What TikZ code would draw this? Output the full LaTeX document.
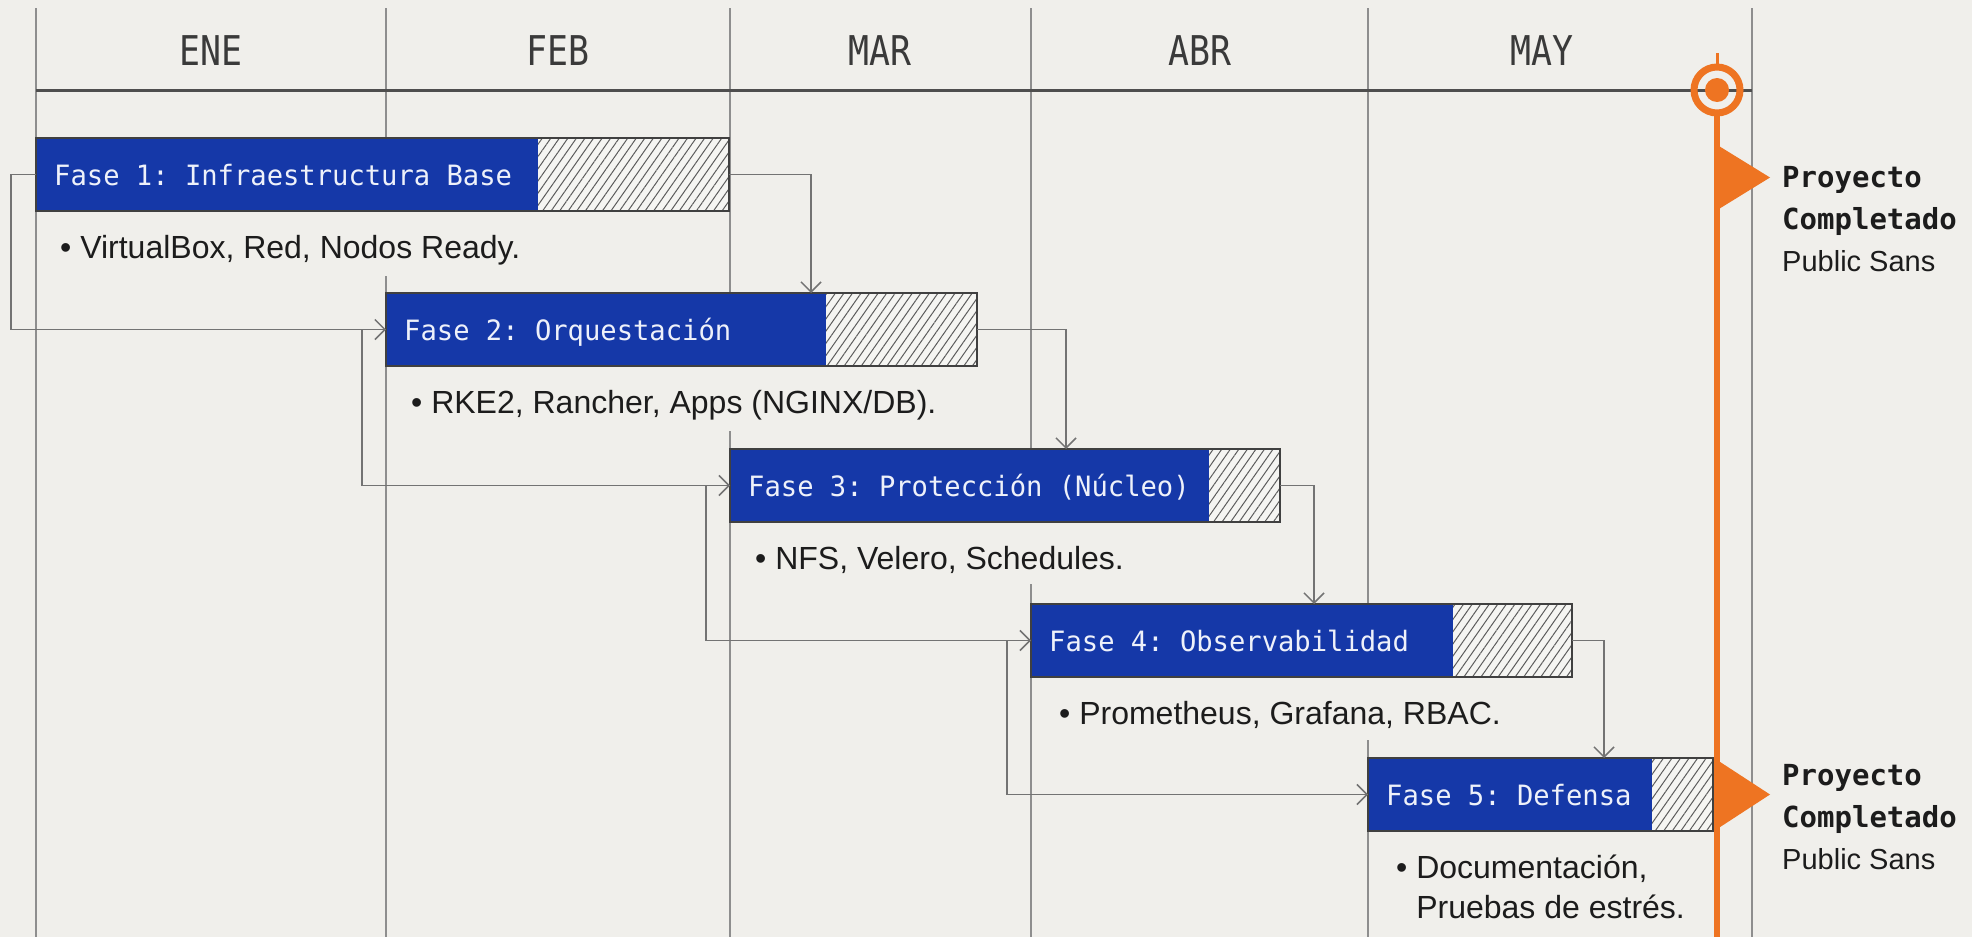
\documentclass[tikz,border=0pt]{standalone}
\usepackage{fontspec}
\setmainfont{Liberation Sans}
\newfontfamily\monofont{DejaVu Sans Mono}
\usetikzlibrary{arrows.meta,patterns.meta,calc}

\definecolor{bgcol}{HTML}{F0EFEB}
\definecolor{barblue}{HTML}{1538A8}
\definecolor{gridcol}{HTML}{8E8E8E}
\definecolor{headcol}{HTML}{4E4E4E}
\definecolor{linecol}{HTML}{737373}
\definecolor{edgecol}{HTML}{404040}
\definecolor{hatchbg}{HTML}{F5F5F2}
\definecolor{hatchcol}{HTML}{5C5C5C}
\definecolor{orangecol}{HTML}{EE7422}
\definecolor{inkcol}{HTML}{1C1C1C}
\definecolor{monthcol}{HTML}{3A3A3A}
\definecolor{bartext}{HTML}{EEF1FA}

\begin{document}
\frenchspacing
\begin{tikzpicture}[x=1pt,y=-1pt,
  gridline/.style={draw=gridcol,line width=1.5pt},
  headline/.style={draw=headcol,line width=3pt},
  panel/.style={fill=bgcol,draw=none},
  bluebar/.style={fill=barblue,draw=none,anchor=north west,
    minimum height=73pt,inner sep=0pt,outer sep=0pt},
  hatchbar/.style={preaction={fill=hatchbg},
    pattern={Lines[angle=55,distance=7pt,line width=1pt]},pattern color=hatchcol,
    draw=none,anchor=north west,minimum height=73pt,inner sep=0pt,outer sep=0pt},
  baredge/.style={draw=edgecol,line width=1.4pt},
  bartitle/.style={anchor=base west,inner sep=0pt,text=bartext,
    font=\monofont\fontsize{28}{32}\selectfont},
  bullet/.style={anchor=base west,inner sep=0pt,text=inkcol,
    font=\fontsize{32}{40}\selectfont},
  month/.style={anchor=base,inner sep=0pt,text=monthcol,
    font=\monofont\fontsize{41}{44}\selectfont},
  conn/.style={draw=linecol,line width=1.5pt,
    -{Straight Barb[length=10pt,width=20pt,line width=1.5pt]}},
  milestone/.style={fill=orangecol,draw=none},
  goaltext/.style={anchor=base west,inner sep=0pt,text=inkcol,
    font=\fontsize{29}{42}\selectfont},
]
\useasboundingbox (0,0) rectangle (1972,937);
\fill[bgcol] (0,0) rectangle (1972,937);

% month grid
\foreach \gx in {36,386,730,1031,1368,1752}
  \draw[gridline] (\gx,8) -- (\gx,937);
\draw[headline] (36,90) -- (1752,90);
\node[month] (mEne) at (211,65) {\scalebox{0.85}[1]{ENE}};
\node[month] (mFeb) at (558,65) {\scalebox{0.85}[1]{FEB}};
\node[month] (mMar) at (880,65) {\scalebox{0.85}[1]{MAR}};
\node[month] (mAbr) at (1200,65) {\scalebox{0.85}[1]{ABR}};
\node[month] (mMay) at (1542,65) {\scalebox{0.85}[1]{MAY}};

% clear strips behind each phase
\fill[panel] (37.5,138) rectangle (729,276);
\fill[panel] (387.5,293) rectangle (977,431);
\fill[panel] (731.5,449) rectangle (1280,584);
\fill[panel] (1032.5,604) rectangle (1572,740);
\fill[panel] (1369.5,758) rectangle (1713,937);

% phase bars
\node[bluebar,minimum width=502pt] (b1) at (36,138) {};
\node[hatchbar,minimum width=191pt] (h1) at (b1.north east) {};
\node[bluebar,minimum width=440pt] (b2) at (386,293) {};
\node[hatchbar,minimum width=151pt] (h2) at (b2.north east) {};
\node[bluebar,minimum width=479pt] (b3) at (730,449) {};
\node[hatchbar,minimum width=71pt] (h3) at (b3.north east) {};
\node[bluebar,minimum width=422pt] (b4) at (1031,604) {};
\node[hatchbar,minimum width=119pt] (h4) at (b4.north east) {};
\node[bluebar,minimum width=284pt] (b5) at (1368,758) {};
\node[hatchbar,minimum width=61pt] (h5) at (b5.north east) {};
\foreach \k in {1,...,5}
  \draw[baredge] (b\k.north west) rectangle (h\k.south east);

% titles
\node[bartitle] (t1) at ($(b1.north west)+(18,47)$) {\scalebox{0.97}[1]{Fase 1: Infraestructura Base}};
\node[bartitle] (t2) at ($(b2.north west)+(18,47)$) {\scalebox{0.97}[1]{Fase 2: Orquestación}};
\node[bartitle] (t3) at ($(b3.north west)+(18,47)$) {\scalebox{0.97}[1]{Fase 3: Protección (Núcleo)}};
\node[bartitle] (t4) at ($(b4.north west)+(18,47)$) {\scalebox{0.97}[1]{Fase 4: Observabilidad}};
\node[bartitle] (t5) at ($(b5.north west)+(18,47)$) {\scalebox{0.97}[1]{Fase 5: Defensa}};

% task lists
\node[bullet] (l1) at ($(b1.south west)+(24,47)$) {• VirtualBox, Red, Nodos Ready.};
\node[bullet] (l2) at ($(b2.south west)+(25,47)$) {• RKE2, Rancher, Apps (NGINX/DB).};
\node[bullet] (l3) at ($(b3.south west)+(25,47)$) {• NFS, Velero, Schedules.};
\node[bullet] (l4) at ($(b4.south west)+(28,47)$) {• Prometheus, Grafana, RBAC.};
\node[bullet] (l5) at ($(b5.south west)+(28,47)$)
  {\begin{tabular}[t]{@{}l@{\ }l@{}}•&Documentación,\\&Pruebas de estrés.\end{tabular}};

% start-to-start dependencies
\draw[conn] (b1.west) -- ++(-25,0) |- (b2.west);
\draw[conn] (b2.west) -- ++(-24,0) |- (b3.west);
\draw[conn] (b3.west) -- ++(-24,0) |- (b4.west);
\draw[conn] (b4.west) -- ++(-24,0) |- (b5.west);

% finish-to-start dependencies
\coordinate (in2) at (811,293);
\coordinate (in3) at (1066,449);
\coordinate (in4) at (1314,604);
\coordinate (in5) at (1604,758);
\draw[conn] (h1.east) -| (in2);
\draw[conn] (h2.east) -| (in3);
\draw[conn] (h3.east) -| (in4);
\draw[conn] (h4.east) -| (in5);

% completion milestone
\coordinate (goal) at (1717,90);
\draw[orangecol,line width=3pt] (1717,53) -- (1717,64);
\draw[orangecol,line width=6pt] (1717,114) -- (1717,937);
\draw[orangecol,line width=7pt] (goal) circle[radius=23];
\fill[orangecol] (goal) circle[radius=12];
\fill[milestone] (1714,143) -- (1770,177.5) -- (1714,212) -- cycle;
\fill[milestone] (1714,758) -- (1770,794.5) -- (1714,831) -- cycle;

\node[goaltext] (g1) at (1782,187)
  {\begin{tabular}[t]{@{}l@{}}{\monofont\bfseries Proyecto}\\{\monofont\bfseries Completado}\\Public Sans\end{tabular}};
\node[goaltext] (g2) at (1782,785)
  {\begin{tabular}[t]{@{}l@{}}{\monofont\bfseries Proyecto}\\{\monofont\bfseries Completado}\\Public Sans\end{tabular}};
\end{tikzpicture}
\end{document}
